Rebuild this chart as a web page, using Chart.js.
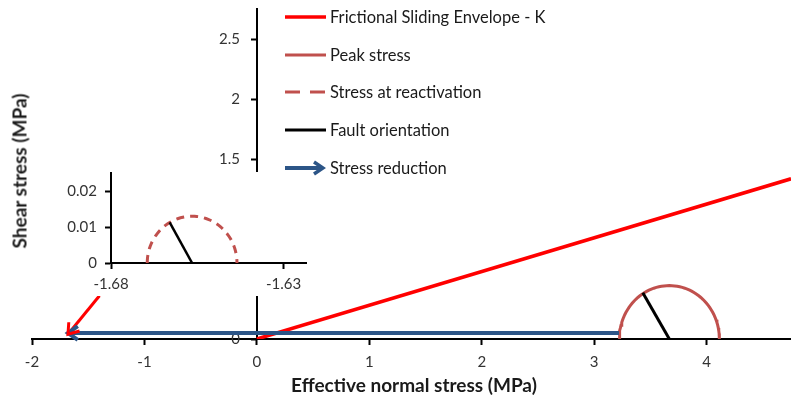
<!DOCTYPE html>
<html>
<head>
<meta charset="utf-8">
<script src="https://cdn.jsdelivr.net/npm/chart.js@4.4.1/dist/chart.umd.min.js"></script>
<style>
    html, body { margin: 0; padding: 0; background: #fff; }
    #wrap { position: relative; width: 791px; height: 401px; overflow: hidden; font-family: Lato, 'Open Sans', sans-serif; color: #1a1a1a; }
    #main { position: absolute; left: 0; top: 0; }
    #insetBg { position: absolute; left: 50px; top: 172px; width: 262px; height: 124px; background: #fff; }
    #inset { position: absolute; left: 50px; top: 163px; }
    #legend { position: absolute; left: 285px; top: -2px; }
    .row { height: 37.75px; display: flex; align-items: center; font-size: 16.5px; white-space: nowrap; }
    .row svg { width: 41px; height: 16px; margin-right: 4px; flex: none; }
    .ytitle { position: absolute; left: 19px; top: 171px; transform: translate(-50%, -50%) rotate(-90deg); font-weight: bold; font-size: 19px; white-space: nowrap; }
    .xtitle { position: absolute; left: 414px; top: 384px; transform: translate(-50%, -50%); font-weight: bold; font-size: 19px; white-space: nowrap; }
</style>
</head>
<body>
<div id="wrap">
    <canvas id="main" width="791" height="401"></canvas>
    <div id="insetBg"></div>
    <canvas id="inset" width="262" height="133"></canvas>
    <div id="legend"></div>
    <div class="ytitle">Shear stress (MPa)</div>
    <div class="xtitle">Effective normal stress (MPa)</div>
</div>
<script>
// main axes
const mainXTicks = [-2, -1, 0, 1, 2, 3, 4];
const mainYTicks = [0, 0.5, 1, 1.5, 2, 2.5];
// inset axes
const insetXTicks = [-1.68, -1.63];
const insetYTicks = [0, 0.01, 0.02];

// frictional sliding envelope
const envelopeX = [0, 4.75];
const envelopeY = [0, 1.335];

// Mohr circles (centre, radius)
const peakCircle = [3.668, 0.445];
const reactCircle = [-1.6565, 0.013];

// fault orientation lines
const faultPeakX = [3.668, 3.432];
const faultPeakY = [0, 0.385];
const faultReactX = [-1.6565, -1.6630];
const faultReactY = [0, 0.0113];

// arrows (tail -> tip)
const reductionX = [3.22, -1.68];
const reductionY = [0.05, 0.05];
const pointerX = [-1.40, -1.68];
const pointerY = [0.36, 0.04];

const RED = '#ff0000';
const PEAK = '#c0504d';
const BLUE = '#2c5587';
const FONT = 'Lato';

function toPoints(xs, ys) {
    return xs.map((x, i) => ({ x: x, y: ys[i] }));
}

function semicircle(c) {
    const pts = [];
    for (let a = 180; a >= 0; a -= 3) {
        const t = a * Math.PI / 180;
        pts.push({ x: c[0] + c[1] * Math.cos(t), y: c[1] * Math.sin(t) });
    }
    return pts;
}

const arrowHeads = {
    id: 'arrowHeads',
    afterDatasetsDraw(chart) {
        const ctx = chart.ctx;
        chart.data.datasets.forEach((ds, i) => {
            if (!ds.arrowHead) return;
            const pts = chart.getDatasetMeta(i).data;
            const tip = pts[pts.length - 1];
            const prev = pts[pts.length - 2];
            const ang = Math.atan2(tip.y - prev.y, tip.x - prev.x);
            const len = 12, spread = 0.62;
            ctx.save();
            ctx.strokeStyle = ds.borderColor;
            ctx.lineWidth = ds.borderWidth;
            ctx.lineJoin = 'miter';
            ctx.beginPath();
            ctx.moveTo(tip.x - len * Math.cos(ang - spread), tip.y - len * Math.sin(ang - spread));
            ctx.lineTo(tip.x, tip.y);
            ctx.lineTo(tip.x - len * Math.cos(ang + spread), tip.y - len * Math.sin(ang + spread));
            ctx.stroke();
            ctx.restore();
        });
    }
};

// y axes sit inside the plot, so push their labels left of the tick marks
function shiftYLabels(dx) {
    return {
        id: 'shiftYLabels',
        beforeDraw(chart) {
            chart.scales.y.getLabelItems().forEach(it => {
                if (it._shifted) return;
                it.options.translation[0] -= dx;
                it._shifted = true;
            });
        }
    };
}

function axis(min, max, pos, ticks, padding) {
    return {
        type: 'linear',
        min: min,
        max: max,
        position: pos,
        afterBuildTicks: s => { s.ticks = ticks.map(v => ({ value: v })); },
        grid: { drawOnChartArea: false, color: '#000', tickLength: 5, tickWidth: 2 },
        border: { color: '#000', width: 2 },
        ticks: {
            color: '#333',
            font: { family: FONT, size: 15 },
            padding: padding,
            autoSkip: false,
            maxRotation: 0,
            callback: v => String(v),
        },
    };
}

function line(label, data, color, width, extra) {
    return Object.assign({
        label: label,
        data: data,
        showLine: true,
        borderColor: color,
        borderWidth: width,
        pointRadius: 0,
        fill: false,
    }, extra || {});
}

new Chart(document.getElementById('main'), {
    type: 'scatter',
    data: {
        datasets: [
            line('Stress reduction', toPoints(reductionX, reductionY), BLUE, 4, { arrowHead: true }),
            line('pointer', toPoints(pointerX, pointerY), RED, 3, { arrowHead: true }),
            line('Fault orientation', toPoints(faultPeakX, faultPeakY), '#000', 3),
            line('Peak stress', semicircle(peakCircle), PEAK, 3),
            line('Frictional Sliding Envelope - K', toPoints(envelopeX, envelopeY), RED, 3.5),
        ]
    },
    options: {
        responsive: false,
        animation: false,
        layout: { padding: { left: 32, right: 0, top: 9, bottom: 62 } },
        plugins: { legend: { display: false }, tooltip: { enabled: false } },
        scales: {
            x: axis(-2, 4.75, { y: 0 }, mainXTicks, 9),
            y: axis(0, 2.75, { x: 0 }, mainYTicks, 0),
        }
    },
    plugins: [arrowHeads, shiftYLabels(17)]
});

new Chart(document.getElementById('inset'), {
    type: 'scatter',
    data: {
        datasets: [
            line('Fault orientation', toPoints(faultReactX, faultReactY), '#000', 2.5),
            line('Stress at reactivation', semicircle(reactCircle), PEAK, 3, { borderDash: [8, 6] }),
        ]
    },
    options: {
        responsive: false,
        animation: false,
        layout: { padding: { left: 61, right: 6, top: 10, bottom: 33 } },
        plugins: { legend: { display: false }, tooltip: { enabled: false } },
        scales: {
            x: axis(-1.68, -1.6235, { y: 0 }, insetXTicks, 7),
            y: axis(0, 0.025, { x: -1.68 }, insetYTicks, 0),
        }
    },
    plugins: [shiftYLabels(14)]
});

// legend
const legendItems = [
    ['Frictional Sliding Envelope - K', '<line x1="0" y1="8" x2="41" y2="8" stroke="' + RED + '" stroke-width="3.5"/>'],
    ['Peak stress', '<line x1="0" y1="8" x2="41" y2="8" stroke="' + PEAK + '" stroke-width="3"/>'],
    ['Stress at reactivation', '<line x1="0" y1="8" x2="41" y2="8" stroke="' + PEAK + '" stroke-width="3" stroke-dasharray="15 10"/>'],
    ['Fault orientation', '<line x1="0" y1="8" x2="41" y2="8" stroke="#000" stroke-width="3"/>'],
    ['Stress reduction', '<line x1="0" y1="8" x2="38" y2="8" stroke="' + BLUE + '" stroke-width="4"/><polyline points="29,2 38,8 29,14" fill="none" stroke="' + BLUE + '" stroke-width="3.5"/>'],
];
const legendEl = document.getElementById('legend');
legendItems.forEach(([text, svg]) => {
    const row = document.createElement('div');
    row.className = 'row';
    row.innerHTML = '<svg viewBox="0 0 41 16">' + svg + '</svg><span>' + text + '</span>';
    legendEl.appendChild(row);
});
</script>
</body>
</html>
